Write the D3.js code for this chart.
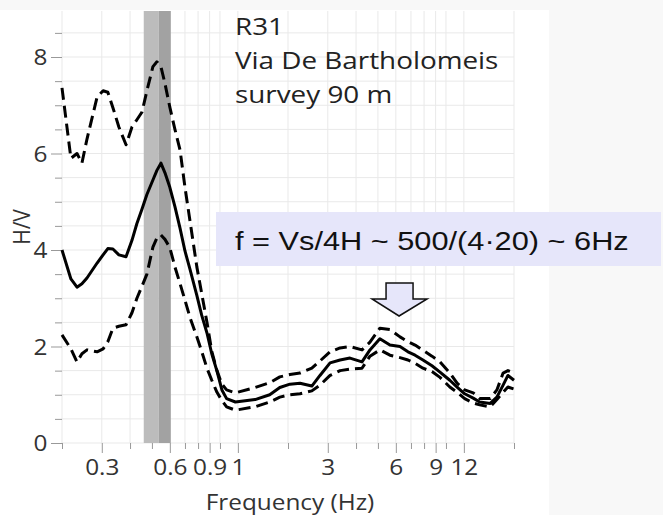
<!DOCTYPE html>
<html>
<head>
<meta charset="utf-8">
<script src="https://cdn.jsdelivr.net/npm/d3@7"></script>
<style>
  html, body { margin: 0; padding: 0; background: #f8f8f8; }
  svg { display: block; }
</style>
</head>
<body>
<svg id="chart" width="663" height="515"></svg>
<script>
// ---------------- data ----------------
const freq = [0.2, 0.219, 0.233, 0.245, 0.258, 0.286, 0.304, 0.319, 0.336, 0.357, 0.384, 0.408, 0.429, 0.452, 0.475, 0.505, 0.526, 0.548, 0.571, 0.6, 0.632, 0.666, 0.7, 0.737, 0.79, 0.83, 0.876, 0.92, 0.97, 1.02, 1.07, 1.17,
  1.43, 1.66, 1.84, 2.04, 2.26, 2.55, 2.77, 3.07, 3.4, 3.76, 4.25, 4.61, 5.1, 5.65, 6.26, 6.79, 7.3, 7.91, 8.67, 9.41, 10.4, 11.2, 12.1, 13.2, 14.1, 15.7, 16.8, 17.9, 18.8, 20];
const hvUpper = [7.36, 5.9, 6.0, 5.8, 6.3, 7.17, 7.3, 7.27, 6.95, 6.55, 6.18, 6.55, 6.7, 6.86, 7.3, 7.8, 7.9, 7.8, 7.45, 6.96, 6.5, 6.07, 5.3, 4.6, 3.65, 3.1, 2.5, 1.9, 1.5, 1.22, 1.1, 1.04,
  1.15, 1.25, 1.37, 1.42, 1.45, 1.55, 1.7, 1.89, 1.97, 2.0, 1.93, 2.09, 2.38, 2.35, 2.2, 2.1, 2.03, 1.92, 1.8, 1.68, 1.45, 1.24, 1.1, 1.04, 0.92, 0.92, 1.1, 1.45, 1.5, 1.45];
const hvMean = [4.0, 3.4, 3.23, 3.3, 3.42, 3.73, 3.9, 4.03, 4.02, 3.9, 3.86, 4.2, 4.55, 4.85, 5.15, 5.45, 5.65, 5.8, 5.6, 5.3, 4.9, 4.45, 3.98, 3.6, 3.06, 2.65, 2.28, 1.85, 1.49, 1.1, 0.92, 0.85,
  0.9, 1.0, 1.15, 1.22, 1.24, 1.18, 1.4, 1.66, 1.72, 1.76, 1.68, 1.93, 2.16, 2.03, 2.0, 1.89, 1.82, 1.72, 1.6, 1.47, 1.3, 1.16, 1.02, 0.93, 0.85, 0.82, 0.95, 1.2, 1.4, 1.3];
const hvLower = [2.24, 1.95, 1.68, 1.85, 1.93, 1.89, 1.95, 2.1, 2.38, 2.42, 2.45, 2.7, 3.0, 3.25, 3.5, 4.06, 4.25, 4.31, 4.22, 4.05, 3.65, 3.3, 2.96, 2.6, 2.2, 1.9, 1.55, 1.3, 1.05, 0.88, 0.75, 0.68,
  0.75, 0.85, 0.95, 1.0, 1.02, 1.08, 1.2, 1.4, 1.5, 1.53, 1.55, 1.8, 1.93, 1.82, 1.77, 1.72, 1.65, 1.55, 1.48, 1.36, 1.16, 1.05, 0.92, 0.83, 0.79, 0.75, 0.9, 1.05, 1.16, 1.12];

// peak-frequency band [light part, dark part]
const bandLight = [0.46, 0.536];
const bandDark = [0.536, 0.606];

const xMajorTicks = [0.3, 0.6, 0.9, 1.2, 3, 6, 9, 12];
const xMajorLabels = ["0.3", "0.6", "0.9", "1", "3", "6", "9", "12"];
const xMinorTicks = [0.2, 0.4, 0.5, 0.7, 0.8, 1, 2, 4, 5, 7, 8, 10, 20];
const yMajorTicks = [0, 2, 4, 6, 8];
const yMinorTicks = [0.5, 1, 1.5, 2.5, 3, 3.5, 4.5, 5, 5.5, 6.5, 7, 7.5, 8.5];

const titleLines = ["R31", "Via De Bartholomeis", "survey 90 m"];
const formulaText = "f = Vs/4H ~ 500/(4\u00B720) ~ 6Hz";
const arrowFreq = 6.2;
const xTitle = "Frequency (Hz)";
const yTitle = "H/V";

// ---------------- layout ----------------
const SX = 1.16; // horizontal stretch of the original picture
const svg = d3.select("#chart");
const pLeft = 62, pRight = 514, pTop = 11, pBottom = 443;

const x = d3.scaleLog().domain([0.2, 20]).range([pLeft, pRight]);
const y = d3.scaleLinear().domain([0, 8]).range([pBottom, 57]);

// white panel
svg.append("rect").attr("x", 0).attr("y", 10).attr("width", 549).attr("height", 505).attr("fill", "#ffffff");

// grid
const grid = svg.append("g").attr("stroke", "#e9e9e9").attr("stroke-width", 1);
xMajorTicks.concat(xMinorTicks).forEach(t => {
  grid.append("line").attr("x1", x(t)).attr("x2", x(t)).attr("y1", pTop).attr("y2", pBottom);
});
yMajorTicks.concat(yMinorTicks).forEach(t => {
  grid.append("line").attr("x1", pLeft).attr("x2", pRight).attr("y1", y(t)).attr("y2", y(t));
});

// band
svg.append("rect").attr("x", x(bandLight[0])).attr("width", x(bandLight[1]) - x(bandLight[0]))
  .attr("y", pTop).attr("height", pBottom - pTop).attr("fill", "#bcbcbc");
svg.append("rect").attr("x", x(bandDark[0])).attr("width", x(bandDark[1]) - x(bandDark[0]))
  .attr("y", pTop).attr("height", pBottom - pTop).attr("fill", "#a2a2a2");

// axes
function styleAxis(g) {
  g.select(".domain").remove();
  g.selectAll(".tick line").attr("stroke", "#999").attr("stroke-width", 1);
  g.selectAll("text").attr("fill", "#333").style("font-family", "'Open Sans', sans-serif").style("font-size", "21px");
}
const xMajor = svg.append("g").attr("transform", `translate(0,${pBottom})`)
  .call(d3.axisBottom(x).tickValues(xMajorTicks).tickSize(10).tickFormat((d, i) => xMajorLabels[i]));
styleAxis(xMajor);
xMajor.selectAll("text").attr("y", 0).attr("dy", null).attr("transform", `translate(0,32) scale(${SX},1)`);
const xMinor = svg.append("g").attr("transform", `translate(0,${pBottom})`)
  .call(d3.axisBottom(x).tickValues(xMinorTicks).tickSize(6).tickFormat(""));
styleAxis(xMinor);

const yMajor = svg.append("g").attr("transform", `translate(${pLeft},0)`)
  .call(d3.axisLeft(y).tickValues(yMajorTicks).tickSize(11).tickFormat(d3.format("d")));
styleAxis(yMajor);
yMajor.selectAll("text").attr("x", -12.5).attr("dy", "0.36em").attr("transform", `scale(${SX},1)`);
const yMinor = svg.append("g").attr("transform", `translate(${pLeft},0)`)
  .call(d3.axisLeft(y).tickValues(yMinorTicks).tickSize(7).tickFormat(""));
styleAxis(yMinor);

// axis titles
svg.append("text").text(xTitle)
  .attr("transform", `translate(${(pLeft + pRight) / 2 + 2},510) scale(${SX},1)`)
  .attr("text-anchor", "middle").attr("fill", "#333")
  .style("font-family", "'Open Sans', sans-serif").style("font-size", "21px");
svg.append("text").text(yTitle)
  .attr("transform", `translate(30,${(pTop + pBottom) / 2}) rotate(-90) scale(1,${SX})`)
  .attr("text-anchor", "middle").attr("fill", "#333")
  .style("font-family", "'Open Sans', sans-serif").style("font-size", "21px");

// curves
const pts = arr => arr.map((v, i) => [freq[i], v]);
const line = d3.line().x(d => x(d[0])).y(d => y(d[1]));
const curves = svg.append("g").attr("fill", "none").attr("stroke", "#000").attr("stroke-width", 3)
  .attr("stroke-linejoin", "round");
curves.append("path").attr("d", line(pts(hvUpper))).attr("stroke-dasharray", "12,6");
curves.append("path").attr("d", line(pts(hvLower))).attr("stroke-dasharray", "12,6");
curves.append("path").attr("d", line(pts(hvMean)));

// title text
titleLines.forEach((t, i) => {
  svg.append("text").text(t)
    .attr("transform", `translate(235,${35 + i * 34}) scale(${SX},1)`)
    .attr("fill", "#222")
    .style("font-family", "'Open Sans', sans-serif").style("font-size", "24px");
});

// formula box
svg.append("rect").attr("x", 216).attr("y", 212).attr("width", 445).attr("height", 54).attr("fill", "#e6e6fa");
svg.append("text").text(formulaText)
  .attr("transform", `translate(235,250) scale(${SX},1)`)
  .attr("fill", "#111")
  .style("font-family", "'Liberation Sans', Arial, sans-serif").style("font-size", "26.5px");

// arrow
const ax = x(arrowFreq);
const arrow = [[ax - 13, 283], [ax + 14, 283], [ax + 14, 299], [ax + 28, 299], [ax, 316], [ax - 27, 299], [ax - 13, 299]];
svg.append("path").attr("d", d3.line()(arrow) + "Z")
  .attr("fill", "#e6e6fa").attr("stroke", "#111").attr("stroke-width", 1.5).attr("stroke-linejoin", "miter");
</script>
</body>
</html>
